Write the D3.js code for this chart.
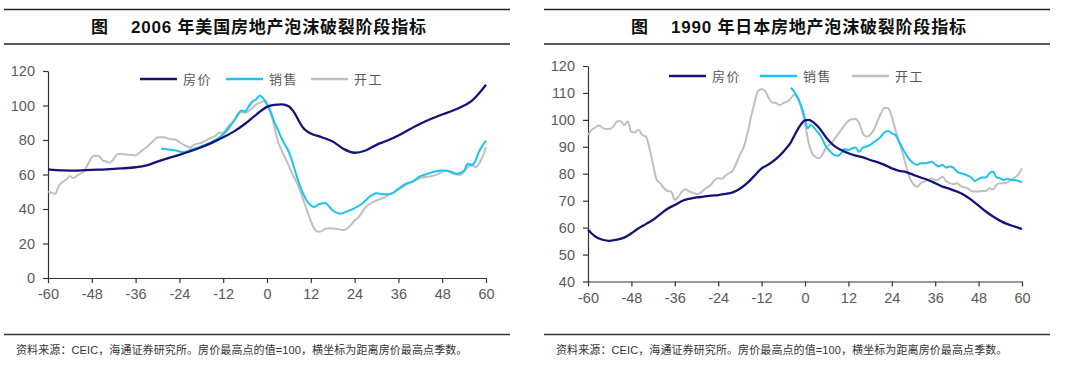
<!DOCTYPE html>
<html>
<head>
<meta charset="utf-8">
<script src="https://cdn.jsdelivr.net/npm/d3@7"></script>
<style>
  body { margin: 0; background: #fff; }
  svg { display: block; }
</style>
</head>
<body>
<div id="chart"></div>
<script>
// quarters from house-price peak, value index (peak = 100)
const usPrice = [[-60,63.0],[-56,62.4],[-52,62.3],[-48,62.7],[-44,63.0],[-40,63.5],[-36,64.2],[-33,65.3],[-30,67.5],[-27,69.5],[-24,71.4],[-21,73.5],[-18,75.8],[-15,78.5],[-12,81.6],[-9,85.0],[-6,89.4],[-3,94.6],[0,99.2],[2,100.3],[4,100.6],[6,99.5],[7,97.3],[8,94.0],[9,90.0],[10,86.8],[11,85.0],[12,83.8],[15,81.6],[18,79.1],[21,74.8],[24,72.6],[27,73.9],[30,77.2],[33,79.7],[36,82.6],[39,86.1],[42,89.4],[45,92.3],[48,94.8],[51,97.1],[54,100.0],[56,102.5],[58,106.8],[60,112.0]];
const usSales = [[-29,74.9],[-27,74.5],[-25,73.9],[-23,72.9],[-21,74.3],[-19,75.5],[-17,77.2],[-15,79.1],[-13,81.6],[-11,85.5],[-9,91.3],[-8,94.5],[-7,97.1],[-6,96.5],[-5,99.5],[-4,102.3],[-3,103.5],[-2,105.8],[-1,104.0],[0,101.0],[1,96.5],[2,90.5],[3,86.0],[4,81.0],[5,77.0],[6,73.0],[7,67.0],[8,60.0],[9,53.6],[10,48.5],[11,44.5],[12,42.0],[13,41.2],[14,42.5],[15,43.2],[16,43.5],[17,41.5],[18,39.1],[19,38.0],[20,37.2],[21,37.8],[22,38.6],[23,39.5],[24,40.5],[26,43.0],[27,44.9],[28,46.9],[30,49.2],[32,48.5],[34,48.8],[36,51.7],[38,54.6],[40,56.0],[42,59.0],[44,60.4],[46,61.7],[48,62.3],[50,61.9],[52,60.4],[54,62.3],[55,66.2],[56,65.2],[57,67.5],[58,72.9],[60,79.7]];
const usStarts = [[-60,50.1],[-59,49.4],[-58,48.8],[-57,53.6],[-56,55.6],[-55,57.1],[-54,59.0],[-53,57.9],[-52,59.4],[-50,62.3],[-49,66.2],[-48,70.0],[-47,71.0],[-46,70.6],[-45,68.1],[-44,67.5],[-43,66.8],[-42,69.1],[-41,71.8],[-40,72.0],[-39,71.6],[-37,71.4],[-36,71.0],[-35,72.6],[-34,74.3],[-33,75.8],[-32,77.8],[-31,79.7],[-30,81.6],[-28,81.6],[-27,80.7],[-25,80.1],[-24,78.7],[-22,76.4],[-21,75.8],[-20,77.2],[-18,78.4],[-16,80.7],[-14,82.6],[-13,84.2],[-12,84.2],[-11,86.9],[-10,89.4],[-9,91.3],[-8,95.2],[-7,96.2],[-6,95.8],[-5,96.8],[-4,98.5],[-3,100.5],[-2,101.5],[-1,102.5],[0,100.0],[1,95.5],[2,88.0],[3,79.0],[4,74.0],[5,69.5],[6,65.0],[7,60.0],[8,56.0],[9,51.0],[10,45.0],[11,39.0],[12,33.0],[13,28.5],[14,26.8],[15,27.2],[16,28.5],[17,28.8],[19,28.5],[21,27.8],[23,30.8],[24,33.3],[25,35.0],[27,41.0],[29,44.0],[31,45.7],[33,47.8],[35,50.1],[37,52.5],[39,55.0],[41,57.1],[43,58.5],[45,59.0],[47,60.4],[49,62.3],[51,60.4],[53,59.8],[55,64.2],[56,66.2],[57,64.2],[59,70.0],[60,75.8]];

const jpPrice = [[-60,59.2],[-58,56.7],[-56,55.5],[-54,55.1],[-52,55.5],[-50,56.3],[-48,57.9],[-46,59.8],[-44,61.3],[-42,62.9],[-40,65.0],[-38,67.0],[-36,68.4],[-34,69.9],[-32,70.7],[-30,71.2],[-28,71.5],[-26,71.9],[-24,72.1],[-22,72.5],[-20,73.1],[-18,74.4],[-16,76.5],[-14,79.2],[-12,82.0],[-10,83.5],[-8,85.5],[-6,88.2],[-4,91.5],[-2,96.5],[0,99.8],[1,100.0],[2,99.4],[4,96.9],[6,93.2],[8,90.4],[10,88.8],[12,87.6],[14,86.7],[16,86.1],[18,85.1],[20,84.3],[22,83.3],[24,82.0],[26,81.1],[28,80.6],[30,79.6],[32,78.6],[34,77.7],[36,76.5],[38,75.2],[40,74.4],[42,73.4],[44,72.1],[46,70.3],[48,68.2],[50,66.0],[52,64.1],[54,62.5],[56,61.3],[58,60.4],[60,59.5]];
const jpSales = [[-3.9,112.0],[-3,110.5],[-2,108.0],[-1,105.0],[0,100.5],[0.7,96.9],[1.6,98.1],[3,96.3],[4.4,93.8],[5.8,90.1],[7,88.2],[8,87.0],[9,86.7],[10,87.6],[11,89.2],[12,88.8],[13,89.4],[14,89.7],[15,88.2],[16,89.7],[17,90.1],[18,90.7],[19,91.7],[20,92.6],[21,93.8],[22,95.4],[23,95.9],[24,95.0],[25,94.4],[26,91.9],[27,89.4],[28,87.0],[29,85.1],[30,83.9],[31,83.3],[32,83.9],[33,83.9],[34,84.1],[35,84.5],[36,83.5],[37,82.7],[38,83.3],[39,82.3],[40,82.7],[41,82.3],[42,80.8],[43,80.2],[44,79.8],[45,79.3],[46,78.6],[47,77.3],[48,78.1],[49,78.6],[50,78.6],[51,80.2],[52,80.8],[53,78.6],[54,78.3],[55,77.7],[56,78.1],[57,77.7],[58,77.7],[59,77.3],[60,76.8]];
const jpStarts = [[-60,94.4],[-59,96.3],[-58,97.1],[-57,97.9],[-56,97.1],[-55,96.6],[-54,96.6],[-53,97.5],[-52,99.4],[-51,99.6],[-50,98.1],[-49,99.4],[-48,95.4],[-47,95.4],[-46,96.3],[-45,94.4],[-44,93.8],[-43,89.5],[-42,83.3],[-41,77.7],[-40,76.5],[-39,74.6],[-38,73.6],[-37,73.4],[-36,70.3],[-35,71.5],[-34,73.4],[-33,74.2],[-32,73.4],[-31,73.0],[-30,72.5],[-29,72.8],[-28,74.0],[-27,75.0],[-26,75.9],[-25,77.7],[-24,78.3],[-23,78.1],[-22,79.3],[-21,80.2],[-20,81.1],[-19,83.9],[-18,87.0],[-17,89.7],[-16,94.4],[-15,100.6],[-14,106.2],[-13,110.7],[-12,111.5],[-11,110.7],[-10,108.0],[-9,106.5],[-8,106.2],[-7,105.5],[-6,106.2],[-5,106.8],[-4,107.8],[-3,109.3],[-2,108.5],[-1,104.0],[0,98.5],[1,91.5],[2,87.5],[3,86.2],[4,85.8],[5,87.6],[6,90.1],[7,90.9],[8,92.6],[9,94.4],[10,96.3],[11,98.1],[12,99.6],[13,100.2],[14,100.3],[15,98.7],[16,95.0],[17,93.8],[18,94.4],[19,96.3],[20,99.4],[21,102.4],[22,104.5],[23,104.3],[24,101.2],[25,96.3],[26,91.9],[27,87.6],[28,82.7],[29,78.3],[30,76.1],[31,75.2],[32,76.5],[33,77.1],[34,77.7],[35,78.3],[36,77.7],[37,77.9],[38,78.9],[39,77.3],[40,76.5],[41,76.1],[42,76.5],[43,75.5],[44,75.0],[45,74.6],[46,73.6],[47,73.4],[48,73.4],[49,73.6],[50,73.6],[51,74.6],[52,74.2],[53,75.9],[54,76.5],[55,76.5],[56,76.8],[57,77.7],[58,78.6],[59,79.8],[60,82.0]];

const xTicks = [-60, -48, -36, -24, -12, 0, 12, 24, 36, 48, 60];
const usYTicks = [0, 20, 40, 60, 80, 100, 120];
const jpYTicks = [40, 50, 60, 70, 80, 90, 100, 110, 120];
const seriesNames = ["房价", "销售", "开工"];
const seriesColors = ["#141478", "#1cc3ee", "#bfbfbf"];
const footnote = "资料来源：CEIC，海通证券研究所。房价最高点的值=100，横坐标为距离房价最高点季数。";

const svg = d3.select("#chart").append("svg")
    .attr("width", 1080)
    .attr("height", 365);

const fontLatin = "'Liberation Sans', Arial, 'Noto Sans CJK SC', sans-serif";

function drawPanel(opts) {
    const p = svg.append("g").attr("transform", `translate(${opts.offset},0)`);

    // header rules + title
    [9.5, 44].forEach(y => {
        p.append("line")
            .attr("x1", 4).attr("x2", 510)
            .attr("y1", y).attr("y2", y)
            .attr("stroke", "#222").attr("stroke-width", 1.4);
    });
    p.append("text")
        .attr("x", 91).attr("y", 33)
        .style("font-family", fontLatin)
        .style("font-size", "17px")
        .style("font-weight", "bold")
        .style("fill", "#111")
        .text("图");
    p.append("text")
        .attr("x", 131).attr("y", 33)
        .style("font-family", fontLatin)
        .style("font-size", "17px")
        .style("font-weight", "bold")
        .style("letter-spacing", "0.8px")
        .style("fill", "#111")
        .text(opts.title);

    // footer rule + source note
    p.append("line")
        .attr("x1", 4).attr("x2", 510)
        .attr("y1", 334.5).attr("y2", 334.5)
        .attr("stroke", "#333").attr("stroke-width", 1.3);
    p.append("text")
        .attr("x", 16).attr("y", 354)
        .style("font-family", fontLatin)
        .style("font-size", "11px")
        .style("letter-spacing", "0.1px")
        .style("fill", "#333")
        .text(footnote);

    const m = opts.margin;
    const width = opts.right - m.left;
    const height = m.bottom - m.top;
    const g = p.append("g").attr("transform", `translate(${m.left},${m.top})`);

    const x = d3.scaleLinear().domain([-60, 60]).range([0, width]);
    const y = d3.scaleLinear().domain(opts.yDomain).range([height, 0]);

    const xAxis = g.append("g")
        .attr("transform", `translate(0,${height})`)
        .call(d3.axisBottom(x).tickValues(xTicks).tickSize(5).tickSizeOuter(0).tickPadding(6).tickFormat(d => String(d)));
    const yAxis = g.append("g")
        .call(d3.axisLeft(y).tickValues(opts.yTicks).tickSize(5).tickSizeOuter(0).tickPadding(8).tickFormat(d => String(d)));

    [xAxis, yAxis].forEach(a => {
        a.select(".domain").attr("stroke", "#333").attr("stroke-width", 1.2);
        a.selectAll(".tick line").attr("stroke", "#333").attr("stroke-width", 1.2);
        a.selectAll(".tick text")
            .style("font-family", "'Liberation Sans', Arial, sans-serif")
            .style("font-size", "14.5px")
            .style("fill", "#595959");
    });

    const line = d3.line()
        .x(d => x(d[0]))
        .y(d => y(d[1]))
        .curve(d3.curveMonotoneX);

    // draw grey first, then cyan, navy on top
    [2, 1, 0].forEach(i => {
        g.append("path")
            .datum(opts.series[i])
            .attr("fill", "none")
            .attr("stroke", seriesColors[i])
            .attr("stroke-width", i === 0 ? 2.3 : 2)
            .attr("stroke-linejoin", "round")
            .attr("d", line);
    });

    // legend
    const lg = p.append("g").attr("transform", `translate(${opts.legend.x},${opts.legend.y})`);
    seriesNames.forEach((name, i) => {
        const lx = opts.legend.steps[i];
        lg.append("line")
            .attr("x1", lx).attr("x2", lx + 37)
            .attr("y1", 0).attr("y2", 0)
            .attr("stroke", seriesColors[i])
            .attr("stroke-width", 2.3);
        lg.append("text")
            .attr("x", lx + 43).attr("y", 5)
            .style("font-family", "'Noto Sans CJK SC', sans-serif")
            .style("font-size", "13px")
            .style("letter-spacing", "1.5px")
            .style("fill", "#595959")
            .text(name);
    });
}

drawPanel({
    offset: 0,
    title: "2006 年美国房地产泡沫破裂阶段指标",
    margin: { left: 48, top: 71, bottom: 278 },
    right: 486,
    yDomain: [0, 120],
    yTicks: usYTicks,
    series: [usPrice, usSales, usStarts],
    legend: { x: 140, y: 79, steps: [0, 86, 171] }
});

drawPanel({
    offset: 540,
    title: "1990 年日本房地产泡沫破裂阶段指标",
    margin: { left: 48, top: 66, bottom: 281.5 },
    right: 482,
    yDomain: [40, 120],
    yTicks: jpYTicks,
    series: [jpPrice, jpSales, jpStarts],
    legend: { x: 129, y: 76, steps: [0, 91, 183] }
});
</script>
</body>
</html>
